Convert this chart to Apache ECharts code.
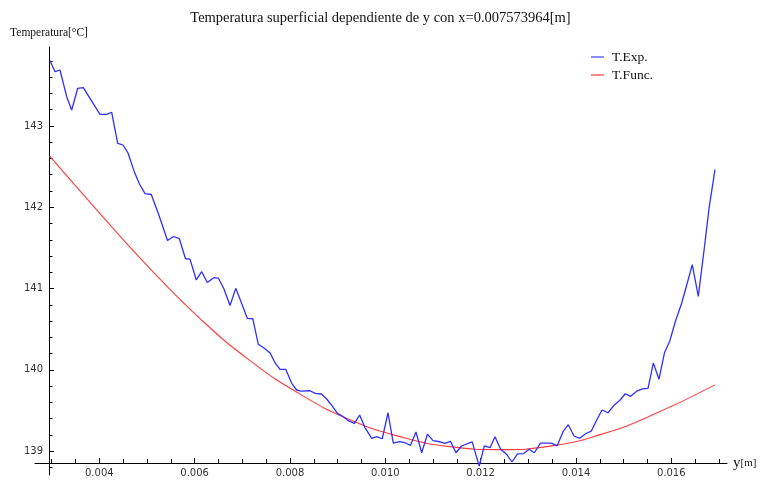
<!DOCTYPE html>
<html>
<head>
<meta charset="utf-8">
<script src="https://cdn.jsdelivr.net/npm/echarts@6/dist/echarts.min.js"></script>
<style>
  html, body { margin: 0; padding: 0; background: #fff; }
  #chart { width: 761px; height: 480px; }
</style>
</head>
<body>
<div id="chart"></div>
<script>
// Measured surface temperature along y (x fixed)
const posExp = [
  0.002966, 0.003071, 0.003175, 0.003316, 0.003421, 0.003547, 0.003664, 0.004015, 0.004155, 0.004260,
  0.004386, 0.004497, 0.004602, 0.004734, 0.004843, 0.004959, 0.005091, 0.005253, 0.005431, 0.005557,
  0.005678, 0.005808, 0.005903, 0.006035, 0.006148, 0.006266, 0.006400, 0.006497, 0.006616, 0.006742,
  0.006864, 0.006979, 0.007105, 0.007220, 0.007336, 0.007462, 0.007588, 0.007686, 0.007791, 0.007911,
  0.008037, 0.008141, 0.008232, 0.008420, 0.008532, 0.008658, 0.008771, 0.008893, 0.008997, 0.009119,
  0.009224, 0.009354, 0.009461, 0.009574, 0.009715, 0.009820, 0.009937, 0.010057, 0.010168, 0.010298,
  0.010414, 0.010529, 0.010644, 0.010764, 0.010886, 0.011001, 0.011148, 0.011253, 0.011368, 0.011484,
  0.011599, 0.011823, 0.011970, 0.012077, 0.012197, 0.012302, 0.012417, 0.012554, 0.012658, 0.012774,
  0.012896, 0.013015, 0.013126, 0.013256, 0.013481, 0.013607, 0.013729, 0.013840, 0.013959, 0.014079,
  0.014201, 0.014320, 0.014436, 0.014547, 0.014673, 0.014809, 0.014918, 0.015035, 0.015149, 0.015275,
  0.015396, 0.015512, 0.015623, 0.015743, 0.015858, 0.015967, 0.016089, 0.016219, 0.016324, 0.016441,
  0.016567, 0.016693, 0.016792, 0.016917
];
const tempExp = [
  143.804, 143.668, 143.689, 143.361, 143.197, 143.464, 143.471, 143.144, 143.144, 143.169,
  142.785, 142.766, 142.668, 142.438, 142.286, 142.167, 142.157, 141.898, 141.591, 141.640,
  141.615, 141.366, 141.361, 141.105, 141.207, 141.074, 141.133, 141.129, 140.994, 140.791,
  141.002, 140.828, 140.633, 140.628, 140.313, 140.264, 140.202, 140.087, 140.006, 140.006,
  139.833, 139.751, 139.738, 139.742, 139.710, 139.702, 139.640, 139.550, 139.464, 139.422,
  139.373, 139.341, 139.443, 139.289, 139.156, 139.176, 139.151, 139.471, 139.098, 139.117,
  139.102, 139.070, 139.234, 138.979, 139.209, 139.129, 139.114, 139.095, 139.119, 138.979,
  139.062, 139.113, 138.815, 139.062, 139.041, 139.176, 139.025, 138.954, 138.865, 138.966,
  138.967, 139.022, 138.979, 139.098, 139.098, 139.064, 139.238, 139.324, 139.185, 139.156,
  139.213, 139.244, 139.382, 139.505, 139.471, 139.570, 139.622, 139.705, 139.673, 139.736,
  139.766, 139.772, 140.083, 139.884, 140.210, 140.351, 140.600, 140.822, 141.043, 141.293,
  140.904, 141.495, 141.987, 142.462
];

// Fitted temperature function
const posFunc = [
  0.002955, 0.004015, 0.005064, 0.006113, 0.007162, 0.008211, 0.009260, 0.010309, 0.011358, 0.012407,
  0.013456, 0.014505, 0.015554, 0.016917
];
const tempFunc = [
  142.631, 141.922, 141.245, 140.630, 140.113, 139.700, 139.386, 139.177, 139.054, 139.017,
  139.060, 139.202, 139.430, 139.814
];

// Axis ticks
const xLabelTicks = [0.004, 0.006, 0.008, 0.010, 0.012, 0.014, 0.016];
const xMinorTicks = [0.003, 0.0035, 0.0045, 0.005, 0.0055, 0.0065, 0.007, 0.0075, 0.0085, 0.009, 0.0095,
  0.0105, 0.011, 0.0115, 0.0125, 0.013, 0.0135, 0.0145, 0.015, 0.0155, 0.0165, 0.017];
const yLabelTicks = [139, 140, 141, 142, 143];
const yMinorTicks = [138.8, 139.2, 139.4, 139.6, 139.8, 140.2, 140.4, 140.6, 140.8, 141.2, 141.4, 141.6,
  141.8, 142.2, 142.4, 142.6, 142.8, 143.2, 143.4, 143.6, 143.8];

const xRange = [0.002651, 0.017169];
const yRange = [138.705, 143.972];

const serif = '"Liberation Serif", "DejaVu Serif", serif';
const sans = '"DejaVu Sans", sans-serif';

const pairs = (xs, ys) => xs.map((x, i) => [x, ys[i]]);

const chart = echarts.init(document.getElementById('chart'), null, { renderer: 'canvas' });

const axisLineStyle = { color: '#000', width: 1 };

chart.setOption({
  animation: false,
  backgroundColor: '#fff',
  title: {
    text: 'Temperatura superficial dependiente de y con x=0.007573964[m]',
    left: 'center',
    top: 6,
    textStyle: { fontFamily: serif, fontSize: 14.5, fontWeight: 'normal', color: '#111' }
  },
  legend: {
    orient: 'vertical',
    left: 586,
    top: 44,
    itemWidth: 13,
    itemHeight: 2,
    itemGap: 2,
    icon: 'rect',
    textStyle: { fontFamily: serif, fontSize: 13.5, color: '#111', lineHeight: 16, padding: [0, 0, 0, 3] },
    data: [
      { name: 'T.Exp.', itemStyle: { color: '#8a8aff' } },
      { name: 'T.Func.', itemStyle: { color: '#ff8a8a' } }
    ]
  },
  grid: { left: 35, right: 34, top: 47, bottom: 5, containLabel: false },
  xAxis: [
    {
      type: 'value', position: 'bottom', offset: -12,
      min: xRange[0], max: xRange[1],
      name: '{a|y}{b|[m]}', nameLocation: 'end', nameGap: 6,
      nameTextStyle: {
        verticalAlign: 'middle',
        rich: {
          a: { fontFamily: serif, fontSize: 15, color: '#111' },
          b: { fontFamily: serif, fontSize: 11, color: '#111' }
        }
      },
      axisLine: { show: true, lineStyle: axisLineStyle },
      axisTick: { show: true, inside: true, length: 5, lineStyle: axisLineStyle, customValues: xLabelTicks },
      axisLabel: {
        show: true, margin: 5, customValues: xLabelTicks,
        fontFamily: sans, fontSize: 10, color: '#333',
        formatter: v => v.toFixed(3)
      },
      splitLine: { show: false }
    },
    {
      type: 'value', position: 'bottom', offset: -12,
      min: xRange[0], max: xRange[1],
      axisLine: { show: false },
      axisTick: { show: true, inside: true, length: 4, lineStyle: axisLineStyle, customValues: xMinorTicks },
      axisLabel: { show: false },
      splitLine: { show: false }
    }
  ],
  yAxis: [
    {
      type: 'value', position: 'left', offset: -14,
      min: yRange[0], max: yRange[1],
      name: 'Temperatura[°C]', nameLocation: 'end', nameGap: 8,
      nameTextStyle: { fontFamily: serif, fontSize: 11.5, color: '#111', align: 'center', verticalAlign: 'bottom' },
      axisLine: { show: true, lineStyle: axisLineStyle },
      axisTick: { show: true, inside: true, length: 5, lineStyle: axisLineStyle, customValues: yLabelTicks },
      axisLabel: {
        show: true, margin: 6, customValues: yLabelTicks,
        fontFamily: sans, fontSize: 10, color: '#333'
      },
      splitLine: { show: false }
    },
    {
      type: 'value', position: 'left', offset: -14,
      min: yRange[0], max: yRange[1],
      axisLine: { show: false },
      axisTick: { show: true, inside: true, length: 3.5, lineStyle: axisLineStyle, customValues: yMinorTicks },
      axisLabel: { show: false },
      splitLine: { show: false }
    }
  ],
  series: [
    {
      name: 'T.Exp.',
      type: 'line',
      xAxisIndex: 0, yAxisIndex: 0,
      data: pairs(posExp, tempExp),
      showSymbol: false,
      color: '#2f2fff',
      lineStyle: { color: '#2f2fff', width: 1.3 },
      z: 3
    },
    {
      name: 'T.Func.',
      type: 'line',
      xAxisIndex: 0, yAxisIndex: 0,
      data: pairs(posFunc, tempFunc),
      smooth: 0.5,
      showSymbol: false,
      color: '#ff3a3a',
      lineStyle: { color: '#ff3a3a', width: 1.1 },
      z: 2
    }
  ]
});
</script>
</body>
</html>
